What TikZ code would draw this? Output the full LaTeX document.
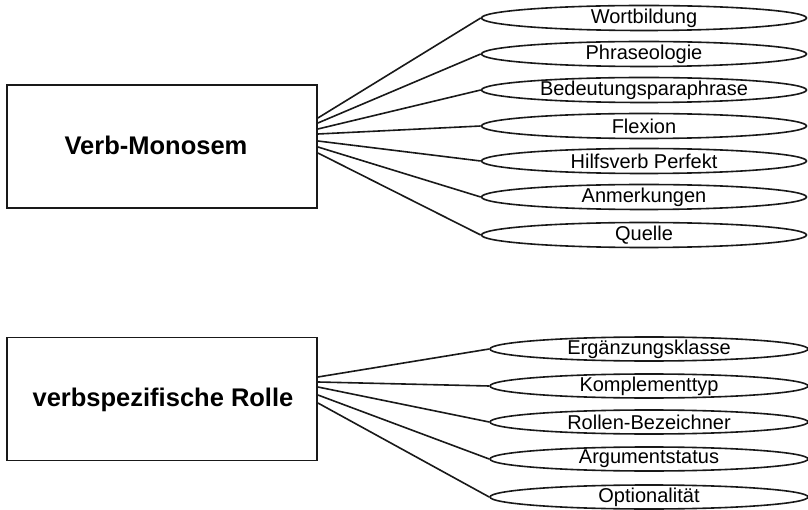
\documentclass[tikz,border=0pt]{standalone}
\usepackage{fontspec}
\setmainfont{Liberation Sans}
\usetikzlibrary{shapes.geometric}
\begin{document}
\begin{tikzpicture}[x=1pt,y=-1pt,
  ent/.style={draw=black!90, line width=1.8pt, rectangle, minimum width=310pt, minimum height=123pt, inner sep=0pt},
  enttext/.style={font=\fontsize{25.5}{30}\selectfont\bfseries, inner sep=0pt},
  attrA/.style={draw=black!90, line width=1.6pt, ellipse, minimum width=325pt, minimum height=25pt, inner sep=0pt},
  attrB/.style={draw=black!90, line width=1.6pt, ellipse, minimum width=318pt, minimum height=24pt, inner sep=0pt},
  attrtext/.style={font=\fontsize{20}{24}\selectfont, inner sep=0pt},
  conn/.style={draw=black!90, line width=1.6pt}]
\useasboundingbox (0,0) rectangle (808,510);
\fill[white] (0,0) rectangle (808,510);

% entities
\node[ent] (vm) at (162,146.5) {};
\node[enttext] (vmt) at (156,145) {Verb-Monosem};
\node[ent] (vr) at (162,399) {};
\node[enttext] (vrt) at (163,400) {verbspezifische Rolle};

% attributes of Verb-Monosem
\node[attrA] (a1) at (644,18) {};
\node[attrA] (a2) at (644,54) {};
\node[attrA] (a3) at (644,90) {};
\node[attrA] (a4) at (644,126) {};
\node[attrA] (a5) at (644,161) {};
\node[attrA] (a6) at (644,197) {};
\node[attrA] (a7) at (644,235) {};
\node[attrtext] (t1) at (a1) {Wortbildung};
\node[attrtext] (t2) at (a2) {Phraseologie};
\node[attrtext] (t3) at (a3) {Bedeutungsparaphrase};
\node[attrtext] (t4) at (a4) {Flexion};
\node[attrtext] (t5) at (a5) {Hilfsverb Perfekt};
\node[attrtext] (t6) at (a6) {Anmerkungen};
\node[attrtext] (t7) at (a7) {Quelle};

% attributes of verbspezifische Rolle
\node[attrB] (b1) at (649,349) {};
\node[attrB] (b2) at (649,386) {};
\node[attrB] (b3) at (649,422) {};
\node[attrB] (b4) at (649,459) {};
\node[attrB] (b5) at (649,497) {};
\node[attrtext] (u1) at (b1) {Ergänzungsklasse};
\node[attrtext] (u2) at (b2) {Komplementtyp};
\node[attrtext] (u3) at (b3) {Rollen-Bezeichner};
\node[attrtext] (u4) at (b4) {Argumentstatus};
\node[attrtext] (u5) at (b5) {Optionalität};

% connectors
\draw[conn] (vm.east |- 0,118) -- (a1.west);
\draw[conn] (vm.east |- 0,123) -- (a2.west);
\draw[conn] (vm.east |- 0,129) -- (a3.west);
\draw[conn] (vm.east |- 0,134) -- (a4.west);
\draw[conn] (vm.east |- 0,141) -- (a5.west);
\draw[conn] (vm.east |- 0,147) -- (a6.west);
\draw[conn] (vm.east |- 0,153) -- (a7.west);

\draw[conn] (vr.east |- 0,377) -- (b1.west);
\draw[conn] (vr.east |- 0,382) -- (b2.west);
\draw[conn] (vr.east |- 0,387) -- (b3.west);
\draw[conn] (vr.east |- 0,395) -- (b4.west);
\draw[conn] (vr.east |- 0,403) -- (b5.west);
\end{tikzpicture}
\end{document}
